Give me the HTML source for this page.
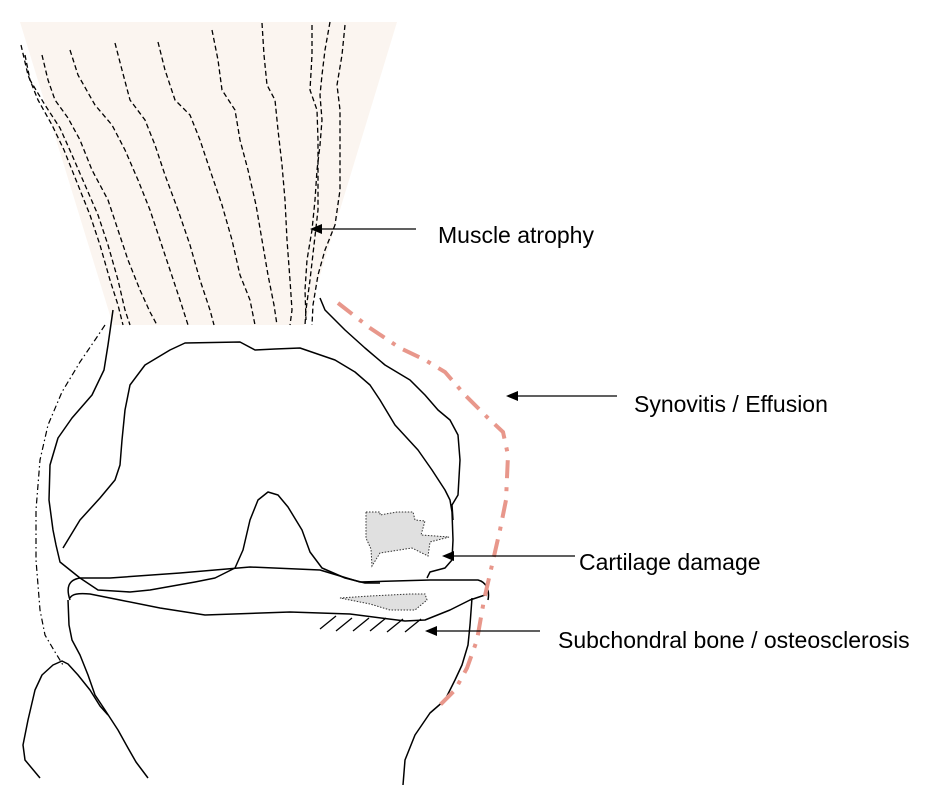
<!DOCTYPE html>
<html><head><style>
html,body{margin:0;padding:0;background:#fff;}
svg{display:block;}
text{font-family:"Liberation Sans",Arial,sans-serif;font-size:23px;fill:#000;}
</style></head><body>
<svg width="930" height="800" viewBox="0 0 930 800" xmlns="http://www.w3.org/2000/svg">
<defs><marker id="ah" markerWidth="12" markerHeight="10" refX="10" refY="5" orient="auto" markerUnits="userSpaceOnUse"><path d="M0,0 L12,5 L0,10 z" fill="#000"/></marker></defs>
<polygon points="20,22 397,22 305,325 113,325" fill="#fbf5f0"/>
<g fill="none" stroke="#000" stroke-width="1.3" stroke-dasharray="5 3">
<polyline points="21,45 28,75 38,100 52,125 64,150 78,185 90,215 100,245 110,280 118,305 123,325"/>
<polyline points="25,55 30,80 45,105 60,128 72,155 85,185 98,215 108,245 118,280 125,310 130,325"/>
<polyline points="42,55 48,80 55,100 68,118 80,140 92,170 108,200 118,230 128,260 140,290 150,312 157,325"/>
<polyline points="70,50 78,75 95,105 112,125 125,150 138,180 150,210 160,240 170,270 180,300 188,325"/>
<polyline points="115,43 122,70 130,100 145,120 155,145 165,175 178,210 190,245 200,280 210,310 214,325"/>
<polyline points="158,42 165,70 175,100 190,115 200,140 210,170 222,205 232,240 240,275 250,300 255,325"/>
<polyline points="212,30 218,60 222,90 235,110 240,140 248,170 256,205 262,240 268,275 274,305 277,325"/>
<polyline points="262,23 264,55 267,85 275,100 278,130 282,165 285,200 287,240 290,280 292,310 290,325"/>
<polyline points="312,25 312,55 310,90 317,110 318,140 318,175 318,210 314,245 310,280 306,310 305,325"/>
<polyline points="345,25 342,55 337,85 340,110 340,150 340,190 335,225 325,250 318,275 313,305 312,325"/>
<polyline points="330,22 325,50 322,75 320,95 322,120 320,145 317,170 315,200 312,230 307,260 305,290 306,320"/>
</g>
<g fill="none" stroke="#000" stroke-width="1.5" stroke-linejoin="round">
<polyline points="113,310 108,345 104,370 92,395 72,418 58,438 50,465 49,500 53,530 56,545 60,562 80,578 98,590 130,592 150,590 195,582 215,578 235,568 243,550 250,520 258,500 268,492 278,495 288,507 302,530 310,552 322,568 345,578 365,583 380,583"/>
<polyline points="63,548 80,520 100,498 115,480 120,465 122,440 125,410 130,385 145,365 170,350 185,343 240,342 255,350 275,349 300,348 335,360 355,372 370,385 380,400 395,425 418,450 432,470 445,490 450,500 452,512 453,540 452,560 445,568 430,572 427,578"/>
<polyline points="320,298 325,310 345,330 365,348 385,365 410,380 425,395 438,410 450,420 458,435 460,460 458,495 452,505 453,520"/>
<path d="M70,600 C66,588 68,580 80,578 L110,578 L180,573 L250,567 L320,570 L360,582 L430,580 L478,580 C486,582 490,590 488,600"/>
<path d="M70,598 C72,594 78,593 90,594 L120,600 L160,608 L205,615 L290,612 L350,614 L405,621 L425,620 L450,610 L470,600 L485,595"/>
<polyline points="68,600 69,625 72,640 80,655 88,675 95,695 105,710 118,730 128,748 136,762 148,778"/>
<polyline points="472,598 470,625 468,645 462,665 455,680 445,700 430,713 415,735 405,760 403,785"/>
<polyline points="40,778 25,760 23,745 28,720 35,690 42,675 53,665 62,661 68,664 78,675 90,690 100,706 108,715"/>
</g>
<polyline points="105,325 95,340 80,362 62,392 48,425 40,460 36,510 36,560 40,610 45,635 55,652 63,665" fill="none" stroke="#000" stroke-width="1.2" stroke-dasharray="6 3 1.5 3"/>
<polyline points="338,303 370,328 400,348 425,360 445,372 465,395 488,418 503,432 508,455 506,500 500,530 492,565 484,600 477,640 467,668 455,690 440,705" fill="none" stroke="#e8978b" stroke-width="4" stroke-dasharray="18 9 4 9"/>
<path d="M366,512 L380,512 L380,515 L397,512 L413,512 L413,512 L415,520 L425,521 L421,535 L449,537 L430,542 L428,556 L412,548 L380,553 L372,566 L371,549 L366,538 Z" fill="#e0e0e0" stroke="#333" stroke-width="1" stroke-dasharray="1.5 1.5"/>
<path d="M340,598 L370,596 L410,594 L425,594 L427,600 L415,610 L390,610 L370,604 Z" fill="#e0e0e0" stroke="#333" stroke-width="1" stroke-dasharray="1.5 1.5"/>
<g stroke="#000" stroke-width="1.3">
<line x1="320" y1="629" x2="336" y2="616"/><line x1="336" y1="631" x2="352" y2="618"/><line x1="353" y1="631" x2="369" y2="618"/><line x1="370" y1="631" x2="386" y2="618"/><line x1="387" y1="632" x2="403" y2="619"/><line x1="405" y1="632" x2="421" y2="619"/>
</g>
<g stroke="#000" stroke-width="1.3" fill="#000">
<line x1="416" y1="229" x2="312" y2="229" marker-end="url(#ah)"/>
<line x1="617" y1="396" x2="508" y2="396" marker-end="url(#ah)"/>
<line x1="575" y1="556" x2="444" y2="556" marker-end="url(#ah)"/>
<line x1="540" y1="631" x2="427" y2="631" marker-end="url(#ah)"/>
</g>
<text x="438" y="243">Muscle atrophy</text>
<text x="634" y="412">Synovitis / Effusion</text>
<text x="579" y="570">Cartilage damage</text>
<text x="558" y="648">Subchondral bone / osteosclerosis</text>
</svg>
</body></html>
